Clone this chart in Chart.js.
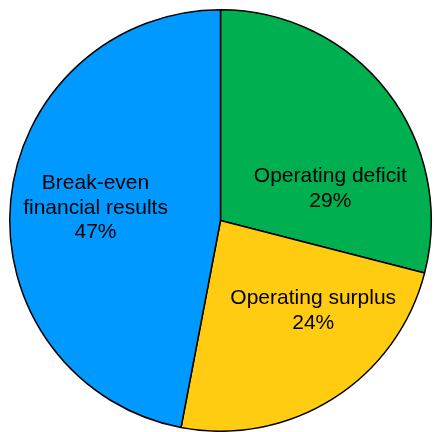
<!DOCTYPE html>
<html>
<head>
<meta charset="utf-8">
<script src="https://cdn.jsdelivr.net/npm/chart.js@4.4.1/dist/chart.umd.min.js"></script>
<style>
  html, body { margin: 0; padding: 0; background: #fff; }
  #wrap { width: 434px; height: 432px; }
</style>
</head>
<body>
<div id="wrap"><canvas id="pie"></canvas></div>
<script>
let categories = [['Operating deficit'], ['Operating surplus'], ['Break-even', 'financial results']]
let shares = [29, 24, 47]
let sliceColors = ['#00B050', '#FFCC11', '#0099FF']

// label block centre (mean baseline), as a share of the radius from the pie centre
let labelSpots = [[0.521, -0.123], [0.440, 0.456], [-0.593, -0.033]]

// draw "name / xx%" inside each slice
let sliceLabels = {
  id: 'sliceLabels',
  afterDatasetsDraw(chart) {
    let ctx = chart.ctx
    let arcs = chart.getDatasetMeta(0).data
    ctx.save()
    ctx.fillStyle = '#000'
    ctx.font = '21px "Liberation Sans", Arial, sans-serif'
    ctx.textAlign = 'center'
    ctx.textBaseline = 'alphabetic'
    arcs.forEach(function(arc, i) {
      let r = arc.outerRadius
      let x = arc.x + labelSpots[i][0] * r
      let lines = categories[i].concat([shares[i] + '%'])
      let lineH = 24.8
      let y = arc.y + labelSpots[i][1] * r - (lines.length - 1) * lineH / 2
      lines.forEach(function(t, k) {
        ctx.fillText(t, x, y + k * lineH)
      })
    })
    ctx.restore()
  }
}

new Chart(document.getElementById('pie'), {
  type: 'pie',
  data: {
    labels: categories.map(c => c.join(' ')),
    datasets: [{
      data: shares,
      backgroundColor: sliceColors,
      borderColor: '#000',
      borderWidth: 1.5,
      hoverOffset: 0
    }]
  },
  options: {
    responsive: true,
    maintainAspectRatio: false,
    animation: false,
    layout: { padding: { left: 9, right: 2, top: 9, bottom: 0 } },
    plugins: {
      legend: { display: false },
      tooltip: { enabled: false }
    }
  },
  plugins: [sliceLabels]
})
</script>
</body>
</html>
